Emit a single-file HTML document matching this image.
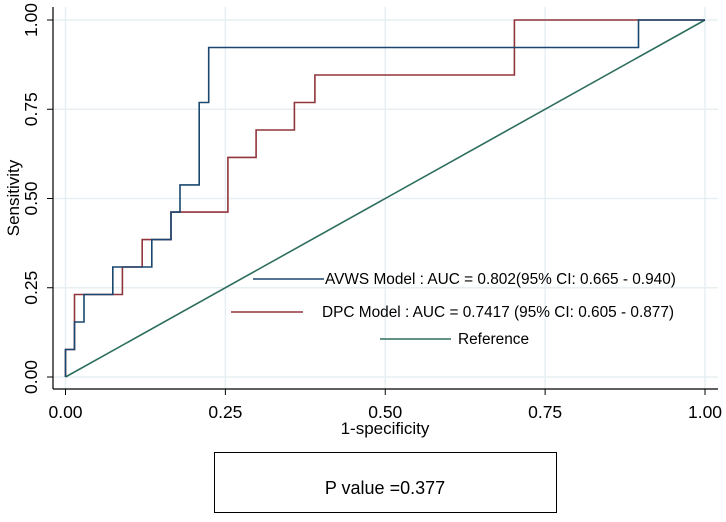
<!DOCTYPE html>
<html><head><meta charset="utf-8"><style>
html,body{margin:0;padding:0;background:#fff;}
svg text{font-family:"Liberation Sans",Arial,sans-serif;fill:#000;}
</style></head><body>
<svg id="chart" width="726" height="517" xmlns="http://www.w3.org/2000/svg">
<g id="grid"></g>
<g id="axes"></g>
<g id="series"></g>
<g>
  <line x1="253" y1="279" x2="324" y2="279" stroke="#1a476f" stroke-width="1.6"/>
  <text x="325" y="284" font-size="15.4">AVWS Model : AUC = 0.802(95% CI: 0.665 - 0.940)</text>
  <line x1="231" y1="312" x2="303" y2="312" stroke="#90353b" stroke-width="1.6"/>
  <text x="322" y="317" font-size="15.4">DPC Model : AUC = 0.7417 (95% CI: 0.605 - 0.877)</text>
  <line x1="380" y1="339" x2="451" y2="339" stroke="#2e6e5e" stroke-width="1.6"/>
  <text x="458" y="344" font-size="15.4">Reference</text>
</g>
<text x="385" y="434" font-size="17" text-anchor="middle">1-specificity</text>
<text transform="translate(19,198) rotate(-90)" font-size="17" text-anchor="middle">Sensitivity</text>
<rect x="214.5" y="452.5" width="342" height="60" fill="#fff" stroke="#000" stroke-width="1"/>
<text x="385" y="494" font-size="18" text-anchor="middle">P value =0.377</text>
</svg>
<script>
const ticks=[0,0.25,0.5,0.75,1];
const tickLabels=["0.00","0.25","0.50","0.75","1.00"];
const avwsX=[0,0,0.014,0.014,0.029,0.029,0.074,0.074,0.135,0.135,0.165,0.165,0.179,0.179,0.209,0.209,0.224,0.224,0.896,0.896,1];
const avwsY=[0,0.077,0.077,0.154,0.154,0.231,0.231,0.308,0.308,0.385,0.385,0.462,0.462,0.538,0.538,0.769,0.769,0.923,0.923,1,1];
const dpcX=[0,0,0.014,0.014,0.089,0.089,0.12,0.12,0.165,0.165,0.254,0.254,0.298,0.298,0.358,0.358,0.39,0.39,0.702,0.702,1];
const dpcY=[0,0.077,0.077,0.231,0.231,0.308,0.308,0.385,0.385,0.462,0.462,0.615,0.615,0.692,0.692,0.769,0.769,0.846,0.846,1,1];
const refX=[0,1];
const refY=[0,1];
const NS="http://www.w3.org/2000/svg";
const sx=v=>65.5+v*639.5, sy=v=>377-v*357;
function mk(tag,attrs,parent){const e=document.createElementNS(NS,tag);for(const k in attrs)e.setAttribute(k,attrs[k]);parent.appendChild(e);return e;}
const grid=document.getElementById('grid'),axes=document.getElementById('axes'),series=document.getElementById('series');
ticks.forEach((t,i)=>{
  let g=mk('line',{x1:sx(t),x2:sx(t),y1:7,y2:389,stroke:'#e8eff2','stroke-width':1.5},grid);
  
  
  g=mk('line',{x1:53,x2:718,y1:sy(t),y2:sy(t),stroke:'#e8eff2','stroke-width':1.5},grid);
  
  
  let tk=mk('line',{x1:sx(t),x2:sx(t),y1:389,y2:395,stroke:'#000'},axes);
  
  
  let tl=mk('text',{x:sx(t),y:418,'font-size':17.5,'text-anchor':'middle'},axes);
  tl.textContent=tickLabels[i];
  
  
  tk=mk('line',{x1:47,x2:53,y1:sy(t),y2:sy(t),stroke:'#000'},axes);
  
  
  tl=mk('text',{transform:`translate(37,${sy(t)}) rotate(-90)`,'font-size':17.5,'text-anchor':'middle'},axes);
  tl.textContent=tickLabels[i];
  
  
});
let ax=mk('line',{x1:53,x2:53,y1:7,y2:389,stroke:'#000','stroke-width':1.2},axes);


ax=mk('line',{x1:53,x2:718,y1:389,y2:389,stroke:'#000','stroke-width':1.2},axes);


function path(xs,ys,color,name){
  const d=xs.map((x,i)=>(i?'L':'M')+sx(x).toFixed(1)+','+sy(ys[i]).toFixed(1)).join('');
  const p=mk('path',{d:d,fill:'none',stroke:color,'stroke-width':1.6},series);
  
  
}
path(refX,refY,'#2e6e5e','reference-line');
path(dpcX,dpcY,'#90353b','dpc-roc-curve');
path(avwsX,avwsY,'#1a476f','avws-roc-curve');
</script>
</body></html>
